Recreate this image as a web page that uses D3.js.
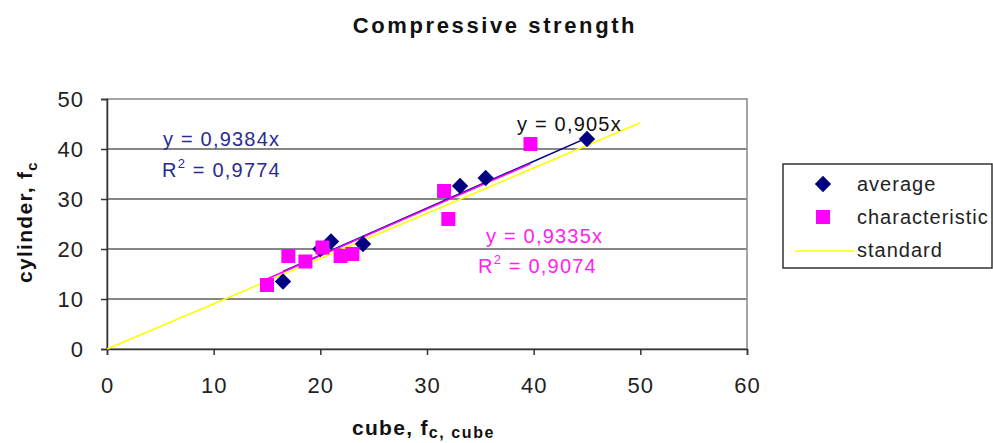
<!DOCTYPE html>
<html>
<head>
<meta charset="utf-8">
<script src="https://cdn.jsdelivr.net/npm/d3@7"></script>
<style>
  body { margin: 0; background: #fff; }
  text { font-family: "Liberation Sans", Arial, sans-serif; }
</style>
</head>
<body>
<div id="chart"></div>
<script>
// data
const averageX = [16.5, 20.0, 21.0, 24.0, 33.1, 35.5, 45.0];
const averageY = [13.5, 20.0, 21.5, 21.0, 32.6, 34.2, 42.0];
const charX = [15.0, 17.0, 18.6, 20.2, 21.9, 23.0, 31.6, 32.0, 39.7];
const charY = [12.8, 18.6, 17.5, 20.3, 18.6, 19.0, 31.6, 26.0, 41.0];
const slopeAverage = 0.9384, slopeChar = 0.9335, slopeStandard = 0.905;
const xTicks = [0, 10, 20, 30, 40, 50, 60];
const yTicks = [0, 10, 20, 30, 40, 50];

const W = 993, H = 443;
const margin = {top: 99, right: 246, bottom: 94, left: 107},
  width = W - margin.left - margin.right,
  height = H - margin.top - margin.bottom;

const svg = d3.select("#chart")
  .append("svg")
  .attr("width", W)
  .attr("height", H);

const g = svg.append("g")
  .attr("transform", `translate(${margin.left}, ${margin.top})`);

const x = d3.scaleLinear().domain([0, 60]).range([0, width]);
const y = d3.scaleLinear().domain([0, 50]).range([height, 0]);

// gridlines
g.selectAll(".grid")
  .data(yTicks.filter(d => d > 0 && d < 50))
  .join("line")
  .attr("x1", 0).attr("x2", width)
  .attr("y1", d => y(d)).attr("y2", d => y(d))
  .attr("stroke", "#111").attr("stroke-width", 1.2);

// plot frame
g.append("rect")
  .attr("x", 0).attr("y", 0)
  .attr("width", width).attr("height", height)
  .attr("fill", "none").attr("stroke", "#888").attr("stroke-width", 1.5);

// axes
const xAxis = g.append("g")
  .attr("transform", `translate(0, ${height})`)
  .call(d3.axisBottom(x).tickValues(xTicks).tickSize(6).tickPadding(22));
const yAxis = g.append("g")
  .call(d3.axisLeft(y).tickValues(yTicks).tickSize(6).tickPadding(17));
[xAxis, yAxis].forEach(a => {
  a.select(".domain").attr("stroke", "#333").attr("stroke-width", 1.5);
  a.selectAll(".tick line").attr("stroke", "#333").attr("stroke-width", 1.5);
  a.selectAll("text")
    .style("font-size", "22px")
    .style("letter-spacing", "1px")
    .style("font-family", "Liberation Sans, Arial, sans-serif")
    .attr("fill", "#222");
});

// standard line
g.append("line")
  .attr("x1", x(0)).attr("y1", y(0))
  .attr("x2", x(50)).attr("y2", y(50 * slopeStandard))
  .attr("stroke", "#ffff00").attr("stroke-width", 1.6);

// trend lines
const trend = (xs, k, color) => {
  const lo = d3.min(xs), hi = d3.max(xs);
  g.append("line")
    .attr("x1", x(lo)).attr("y1", y(lo * k))
    .attr("x2", x(hi)).attr("y2", y(hi * k))
    .attr("stroke", color).attr("stroke-width", 1.6);
};
trend(averageX, slopeAverage, "#000080");
trend(charX, slopeChar, "#ff00ff");

// average markers
g.selectAll(".avg")
  .data(d3.zip(averageX, averageY))
  .join("path")
  .attr("d", d3.symbol(d3.symbolDiamond2, 170)())
  .attr("transform", d => `translate(${x(d[0])}, ${y(d[1])})`)
  .attr("fill", "#000080");

// characteristic markers
g.selectAll(".chr")
  .data(d3.zip(charX, charY))
  .join("rect")
  .attr("x", d => x(d[0]) - 7).attr("y", d => y(d[1]) - 7)
  .attr("width", 14).attr("height", 14)
  .attr("fill", "#ff00ff");

// equations
const label = (tx, ty, str, color, sup) => {
  const t = svg.append("text")
    .attr("x", tx).attr("y", ty)
    .attr("fill", color)
    .style("font-size", "20px")
    .style("letter-spacing", "1.2px");
  if (sup) {
    t.append("tspan").text("R");
    t.append("tspan").text("2").attr("dy", -9).style("font-size", "13px");
    t.append("tspan").text(" = " + str).attr("dy", 9);
  } else {
    t.text(str);
  }
};
label(163, 146, "y = 0,9384x", "#2b2b8f", false);
label(162, 177, "0,9774", "#2b2b8f", true);
label(517, 131, "y = 0,905x", "#111", false);
label(486, 243, "y = 0,9335x", "#ff22ee", false);
label(478, 273, "0,9074", "#ff22ee", true);

// title
svg.append("text")
  .attr("x", 495).attr("y", 33)
  .attr("text-anchor", "middle")
  .style("font-size", "22px").style("font-weight", "bold")
  .style("letter-spacing", "2.6px")
  .attr("fill", "#111")
  .text("Compressive strength");

// x label
const xl = svg.append("text")
  .attr("x", 352).attr("y", 435)
  .style("font-size", "21px").style("font-weight", "bold")
  .style("letter-spacing", "1.3px")
  .attr("fill", "#111");
xl.append("tspan").text("cube, f");
xl.append("tspan").text("c, cube").attr("dy", 3)
  .style("font-size", "16px").style("letter-spacing", "1.6px");

// y label
const yl = svg.append("text")
  .attr("transform", "translate(32, 222) rotate(-90)")
  .attr("text-anchor", "middle")
  .style("font-size", "21px").style("font-weight", "bold")
  .style("letter-spacing", "1.3px")
  .attr("fill", "#111");
yl.append("tspan").text("cylinder, f");
yl.append("tspan").text("c").attr("dy", 5).style("font-size", "15px");

// legend
const lg = svg.append("g").attr("transform", "translate(783, 164)");
lg.append("rect")
  .attr("x", 0).attr("y", 0).attr("width", 209).attr("height", 104)
  .attr("fill", "#fff").attr("stroke", "#333").attr("stroke-width", 1.5);
lg.append("path")
  .attr("d", d3.symbol(d3.symbolDiamond2, 170)())
  .attr("transform", "translate(40, 20)")
  .attr("fill", "#000080");
lg.append("rect")
  .attr("x", 33).attr("y", 46).attr("width", 14).attr("height", 14)
  .attr("fill", "#ff00ff");
lg.append("line")
  .attr("x1", 12).attr("x2", 72).attr("y1", 87).attr("y2", 87)
  .attr("stroke", "#ffff00").attr("stroke-width", 1.6);
[["average", 27], ["characteristic", 60], ["standard", 93]].forEach(([s, ty]) => {
  lg.append("text").attr("x", 74).attr("y", ty)
    .style("font-size", "20px").style("letter-spacing", "1px")
    .attr("fill", "#222").text(s);
});
</script>
</body>
</html>
